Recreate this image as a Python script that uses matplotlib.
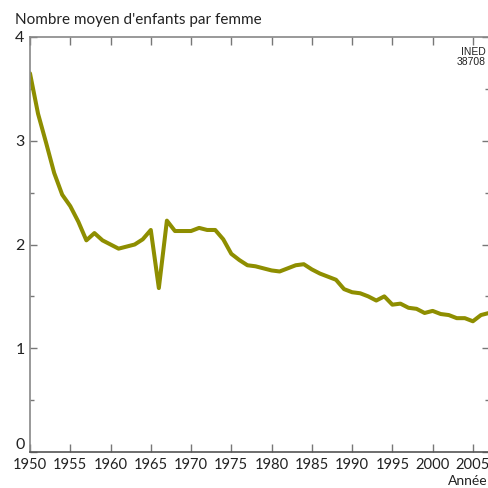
import matplotlib
matplotlib.use("Agg")
import matplotlib.pyplot as plt
from matplotlib.ticker import MultipleLocator

years = list(range(1950, 2008))
tfr = [3.65, 3.26, 2.98, 2.69, 2.48, 2.37, 2.22, 2.04, 2.11, 2.04,
       2.00, 1.96, 1.98, 2.00, 2.05, 2.14, 1.58, 2.23, 2.13, 2.13,
       2.13, 2.16, 2.14, 2.14, 2.05, 1.91, 1.85, 1.80, 1.79, 1.77,
       1.75, 1.74, 1.77, 1.80, 1.81, 1.76, 1.72, 1.69, 1.66, 1.57,
       1.54, 1.53, 1.50, 1.46, 1.50, 1.42, 1.43, 1.39, 1.38, 1.34,
       1.36, 1.33, 1.32, 1.29, 1.29, 1.26, 1.32, 1.34]
x_ticks = list(range(1950, 2006, 5))
y_ticks = [0, 1, 2, 3, 4]
title = "Nombre moyen d'enfants par femme"
x_label = "Année"
source = "INED\n38708"

plt.rcParams['font.family'] = ['Lato', 'DejaVu Sans']

W, H = 489, 488
fig = plt.figure(figsize=(W / 100, H / 100), dpi=100)
ax = fig.add_axes([30 / W, 1 - 452 / H, 1 - 30 / W, (452 - 37) / H])

ax.plot(years, tfr, color='#8e8e00', lw=2.9, solid_joinstyle='round', solid_capstyle='round')

ax.set_xlim(1950, 2007)
ax.set_ylim(0, 4)
ax.set_xticks(x_ticks)
ax.set_yticks(y_ticks)
ax.yaxis.set_minor_locator(MultipleLocator(0.5))

ax.tick_params(axis='x', which='major', direction='in', top=True, bottom=True,
               length=5.8, width=1.0, color='#777777', labelsize=10.6, pad=4.5,
               labelcolor='#222222')
ax.tick_params(axis='y', which='major', direction='in', left=True, right=True,
               length=5.0, width=1.0, color='#777777', labelsize=11.5, pad=4,
               labelcolor='#222222')
ax.tick_params(axis='y', which='minor', direction='in', left=True, right=True,
               length=3.0, width=1.0, color='#777777')

fig.canvas.draw()
ax.get_yticklabels()[0].set_verticalalignment('bottom')

for s in ['left', 'top']:
    ax.spines[s].set_color('#888888')
    ax.spines[s].set_linewidth(1.2)
ax.spines['bottom'].set_color('#555555')
ax.spines['bottom'].set_linewidth(1.2)
ax.spines['right'].set_visible(False)

fig.text(15 / W, 1 - 24 / H, title, fontsize=11, color='#222222', va='baseline', ha='left')
fig.text(488 / W, 1 - 485 / H, x_label, fontsize=10, color='#222222', va='baseline', ha='right')
fig.text(486 / W, 1 - 47 / H, source, fontsize=7.5, color='#222222', va='top', ha='right',
         family=['Liberation Sans Narrow', 'Liberation Sans', 'DejaVu Sans'], linespacing=1.0)

fig.savefig('out.png', dpi=100)
